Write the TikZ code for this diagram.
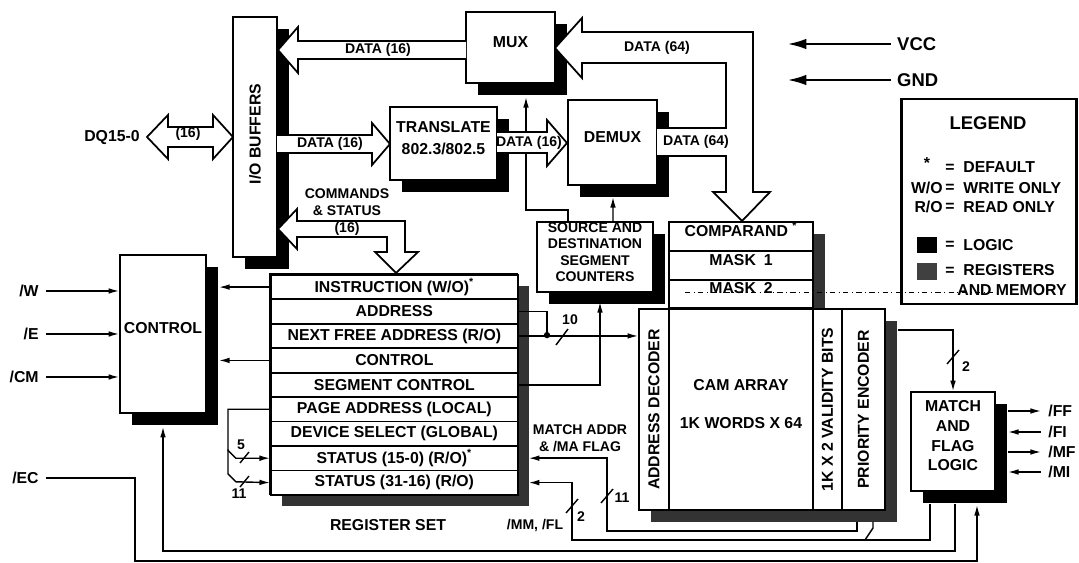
\documentclass[tikz,border=0pt]{standalone}
\usepackage{fontspec}
\setmainfont{Liberation Sans}
\usetikzlibrary{arrows.meta,fit,shadows}

\begin{document}
\begin{tikzpicture}[x=0.02cm,y=-0.02cm,
  font=\bfseries\fontsize{9}{10.5}\selectfont,
  logic/.style={draw,line width=1pt,fill=white,inner sep=0pt,align=center,
    drop shadow={opacity=1,fill=black,shadow xshift=0.24cm,shadow yshift=-0.24cm}},
  regs/.style={draw,line width=1pt,fill=white,inner sep=0pt,
    drop shadow={opacity=1,fill=black!80,shadow xshift=0.24cm,shadow yshift=-0.24cm}},
  cell/.style={draw,line width=1pt,fill=white,inner sep=0pt,align=center},
  sig/.style={line width=0.8pt},
  arr/.style={-{Latex[length=6pt,width=3.2pt]}},
  pwr/.style={line width=1.6pt,-{Latex[length=11pt,width=6pt]}},
  bus/.style={draw,line width=1pt,fill=white,line join=miter},
  lbl/.style={font=\bfseries\fontsize{8}{9.5}\selectfont,inner sep=1pt,align=center},
  pin/.style={inner sep=4pt}]

\useasboundingbox (0,0) rectangle (1079,563);

% Blocks
\node[logic,fit={(233,17)(277,257)}] (iobuf) {};
\node[rotate=90] at (255,134) {I/O BUFFERS};
\node[logic,fit={(466,12)(555,83)}] (mux) {MUX};
\node[logic,fit={(390,107)(497,180)},font=\bfseries\fontsize{9}{12.5}\selectfont] (xlate) {TRANSLATE\\802.3/802.5};
\node[logic,fit={(568,100)(657,185)}] (demux) {DEMUX};
\node[logic,fit={(537,222)(653,292)},font=\bfseries\fontsize{8}{9.4}\selectfont] (segc) {SOURCE AND\\DESTINATION\\SEGMENT\\COUNTERS};

% Comparand and masks
\node[regs,fit={(669,222)(813,308)}] (cmpstk) {};
\node[cell,fit={(669,222)(813,251)}] (cmp) {COMPARAND \textsuperscript{*}};
\node[cell,fit={(669,251)(813,280)}] (mask1) {MASK\enspace1};
\node[cell,fit={(669,280)(813,308)}] (mask2) {MASK\enspace2};

% CAM array
\node[regs,fit={(639,309)(885,510)}] (cam) {};
\node[cell,fit={(639,309)(669,510)}] (adec) {};
\node[rotate=90] at (adec) {ADDRESS DECODER};
\node[cell,fit={(669,309)(813,510)}] (camarr) {CAM ARRAY\\[11pt]1K WORDS X 64};
\node[cell,fit={(813,309)(842,510)}] (valid) {};
\node[rotate=90] at (valid) {1K X 2 VALIDITY BITS};
\node[cell,fit={(842,309)(885,510)}] (prio) {};
\node[rotate=90] at (prio) {PRIORITY ENCODER};

% Control
\node[logic,fit={(120,255)(206,413)}] (ctrl) {CONTROL};

% Register set
\node[regs,fit={(270,274)(517,494)}] (regset) {};
\foreach \txt [count=\i] in {{INSTRUCTION (W/O)\textsuperscript{*}},{ADDRESS},{NEXT FREE ADDRESS (R/O)},{CONTROL},{SEGMENT CONTROL},{PAGE ADDRESS (LOCAL)},{DEVICE SELECT (GLOBAL)},{STATUS (15-0) (R/O)\textsuperscript{*}},{STATUS (31-16) (R/O)}}
  \node[cell,minimum width=4.94cm,minimum height=0.4889cm,anchor=north west] (r\i) at (270,{274+(\i-1)*24.44}) {\txt};
\node at (388,525) {REGISTER SET};

% Match and flag logic
\node[logic,fit={(911,392)(995,491)},font=\bfseries\fontsize{9}{11.2}\selectfont] (match) {MATCH\\AND\\FLAG\\LOGIC};

% shadow edges
\coordinate (ctlR) at (219,334);
\coordinate (mshR) at (1008,441);
\coordinate (mshB) at (955,504);
\coordinate (pwrL) at (787,60);
\coordinate (jad) at (547,335.1);

% Pins
\node[pin,anchor=east] (pW) at (46,291) {/W};
\node[pin,anchor=east] (pE) at (46,334) {/E};
\node[pin,anchor=east] (pCM) at (46,377) {/CM};
\node[pin,anchor=east] (pEC) at (46,478) {/EC};
\draw[sig,arr] (pW) -- (pW -| ctrl.west);
\draw[sig,arr] (pE) -- (pE -| ctrl.west);
\draw[sig,arr] (pCM) -- (pCM -| ctrl.west);
\draw[sig,arr] (pEC) -| (135,561) -| (977,505);
\draw[sig,arr] (mshB) |- (163,551) -- ([yshift=-0.26cm]ctrl.south);

\node[pin,anchor=west] (pFF) at (1041,411) {/FF};
\node[pin,anchor=west] (pFI) at (1041,432) {/FI};
\node[pin,anchor=west] (pMF) at (1041,452) {/MF};
\node[pin,anchor=west] (pMI) at (1041,472) {/MI};
\draw[sig,arr] (pFF -| mshR) -- (pFF);
\draw[sig,arr] (pFI) -- (pFI -| mshR);
\draw[sig,arr] (pMF -| mshR) -- (pMF);
\draw[sig,arr] (pMI) -- (pMI -| mshR);

% Register set connections
\draw[sig,arr] (r1.west) -- (r1.west -| ctlR);
\draw[sig,arr] (r4.west) -- (r4.west -| ctlR);
\draw[sig,arr] (r6.west) -- ++(-42,0) -- ++(0,41) -- ++(8,8) -- (r8.west);
\draw[sig,arr] (228,449.4) -- ++(0,24.4) -- ++(8,8) -- (r9.west);
\draw[sig] (240,463) -- ++(9,-11);
\draw[sig] (240,487) -- ++(9,-11);
\node[lbl] at (241,445) {5};
\node[lbl] at (239,494) {11};

\draw[sig] (r2.east) -| (jad);
\fill (jad) circle[radius=1.8pt];
\draw[sig,arr] (r3.east) -- (r3.east -| adec.west);
\draw[sig] (556,345) -- ++(12,-16);
\node[lbl] at (570,320) {10};
\draw[sig,arr] (r5.east) -| (600,302);

\draw[sig,arr] (857,522) |- (607,531) |- ([xshift=0.2cm]r8.east);
\draw[sig] (601,503) -- ++(12,-14);
\node[lbl] at (622,498) {11};
\node[lbl] at (580,438) {MATCH ADDR\\\& /MA FLAG};

\draw[sig,arr] (930,504) |- (572,540) |- ([xshift=0.2cm]r9.east);
\draw[sig] (865,540) -- (873,528) -- (873,522);
\draw[sig] (566,513) -- ++(12,-14);
\node[lbl] at (581,517) {2};
\node[lbl] at (535,525) {/MM, /FL};

% Segment counters
\draw[sig,arr] ([xshift=-0.54cm]segc.north) |- (526,210) -- (526,97);
\draw[sig,arr] ([xshift=0.36cm]segc.north) -- (613,197);

% Priority encoder to match logic
\draw[sig,arr] (898,330) -| (match.north);
\draw[sig] (947,364) -- ++(12,-14);
\node[lbl] at (966,367) {2};

% Power
\node[anchor=west,font=\bfseries\fontsize{10.5}{12}\selectfont] (vcc) at (891,44) {VCC};
\node[anchor=west,font=\bfseries\fontsize{10.5}{12}\selectfont] (gnd) at (891,80) {GND};
\draw[pwr] (vcc) -- (vcc -| pwrL);
\draw[pwr] (gnd) -- (gnd -| pwrL);

% Legend
\node[draw,line width=1.7pt,inner sep=0pt,fit={(901,99)(1076,304)}] (legend) {};
\node[font=\bfseries\fontsize{10.5}{12}\selectfont] at (988,123) {LEGEND};
\node[inner sep=0pt] at (927,163) {*};
\node[inner sep=0pt] at (950,168) {=};
\node[anchor=west,inner sep=0pt] at (963,167) {DEFAULT};
\node[anchor=east,inner sep=0pt] at (943,188) {W/O};
\node[inner sep=0pt] at (950,188) {=};
\node[anchor=west,inner sep=0pt] at (963,188) {WRITE ONLY};
\node[anchor=east,inner sep=0pt] at (943,207) {R/O};
\node[inner sep=0pt] at (950,207) {=};
\node[anchor=west,inner sep=0pt] at (963,207) {READ ONLY};
\fill (917,237) rectangle (937,253);
\node[inner sep=0pt] at (950,245) {=};
\node[anchor=west,inner sep=0pt] at (963,245) {LOGIC};
\fill[black!75] (917,263) rectangle (937,280);
\node[inner sep=0pt] at (950,271) {=};
\node[anchor=west,inner sep=0pt] at (963,270) {REGISTERS};
\node[anchor=west,inner sep=0pt] at (957,290) {AND MEMORY};
\draw[line width=0.5pt,dash dot] (685,292) -- (1000,292);

% Buses
\draw[bus] (466,41) -- (298,41) -- (298,27) -- (278,50) -- (298,73) -- (298,59) -- (466,59);
\node[lbl] at (378,50) {DATA (16)};
\draw[bus] (168,127) -- (213,127) -- (213,115) -- (233,137) -- (213,159) -- (213,147) -- (168,147) -- (168,159) -- (147,137) -- (168,115) -- cycle;
\node[lbl] at (188,134) {(16)};
\node (dq) at (112,138) {DQ15-0};
\draw[bus] (277,135) -- (372,135) -- (372,123) -- (390,144) -- (372,165) -- (372,153) -- (277,153);
\node[lbl] at (330,144) {DATA (16)};
\draw[bus] (297,221) -- (405,221) -- (405,252) -- (418,252) -- (396,273) -- (375,252) -- (387,252) -- (387,237) -- (297,237) -- (297,249) -- (278,229) -- (297,209) -- cycle;
\node[lbl] at (347,212) {COMMANDS\\\& STATUS\\(16)};
\draw[bus] (497,132) -- (547,132) -- (547,120) -- (567,143) -- (547,166) -- (547,153) -- (497,153);
\node[lbl] at (529,143) {DATA (16)};
\draw[bus] (657,128) -- (726,128) -- (726,63) -- (582,63) -- (582,78) -- (555,48) -- (582,18) -- (582,32) -- (753,32) -- (753,192) -- (770,192) -- (742,221) -- (713,192) -- (726,192) -- (726,156) -- (657,156);
\node[lbl] at (657,48) {DATA (64)};
\node[lbl] at (696,142) {DATA (64)};
\end{tikzpicture}
\end{document}
